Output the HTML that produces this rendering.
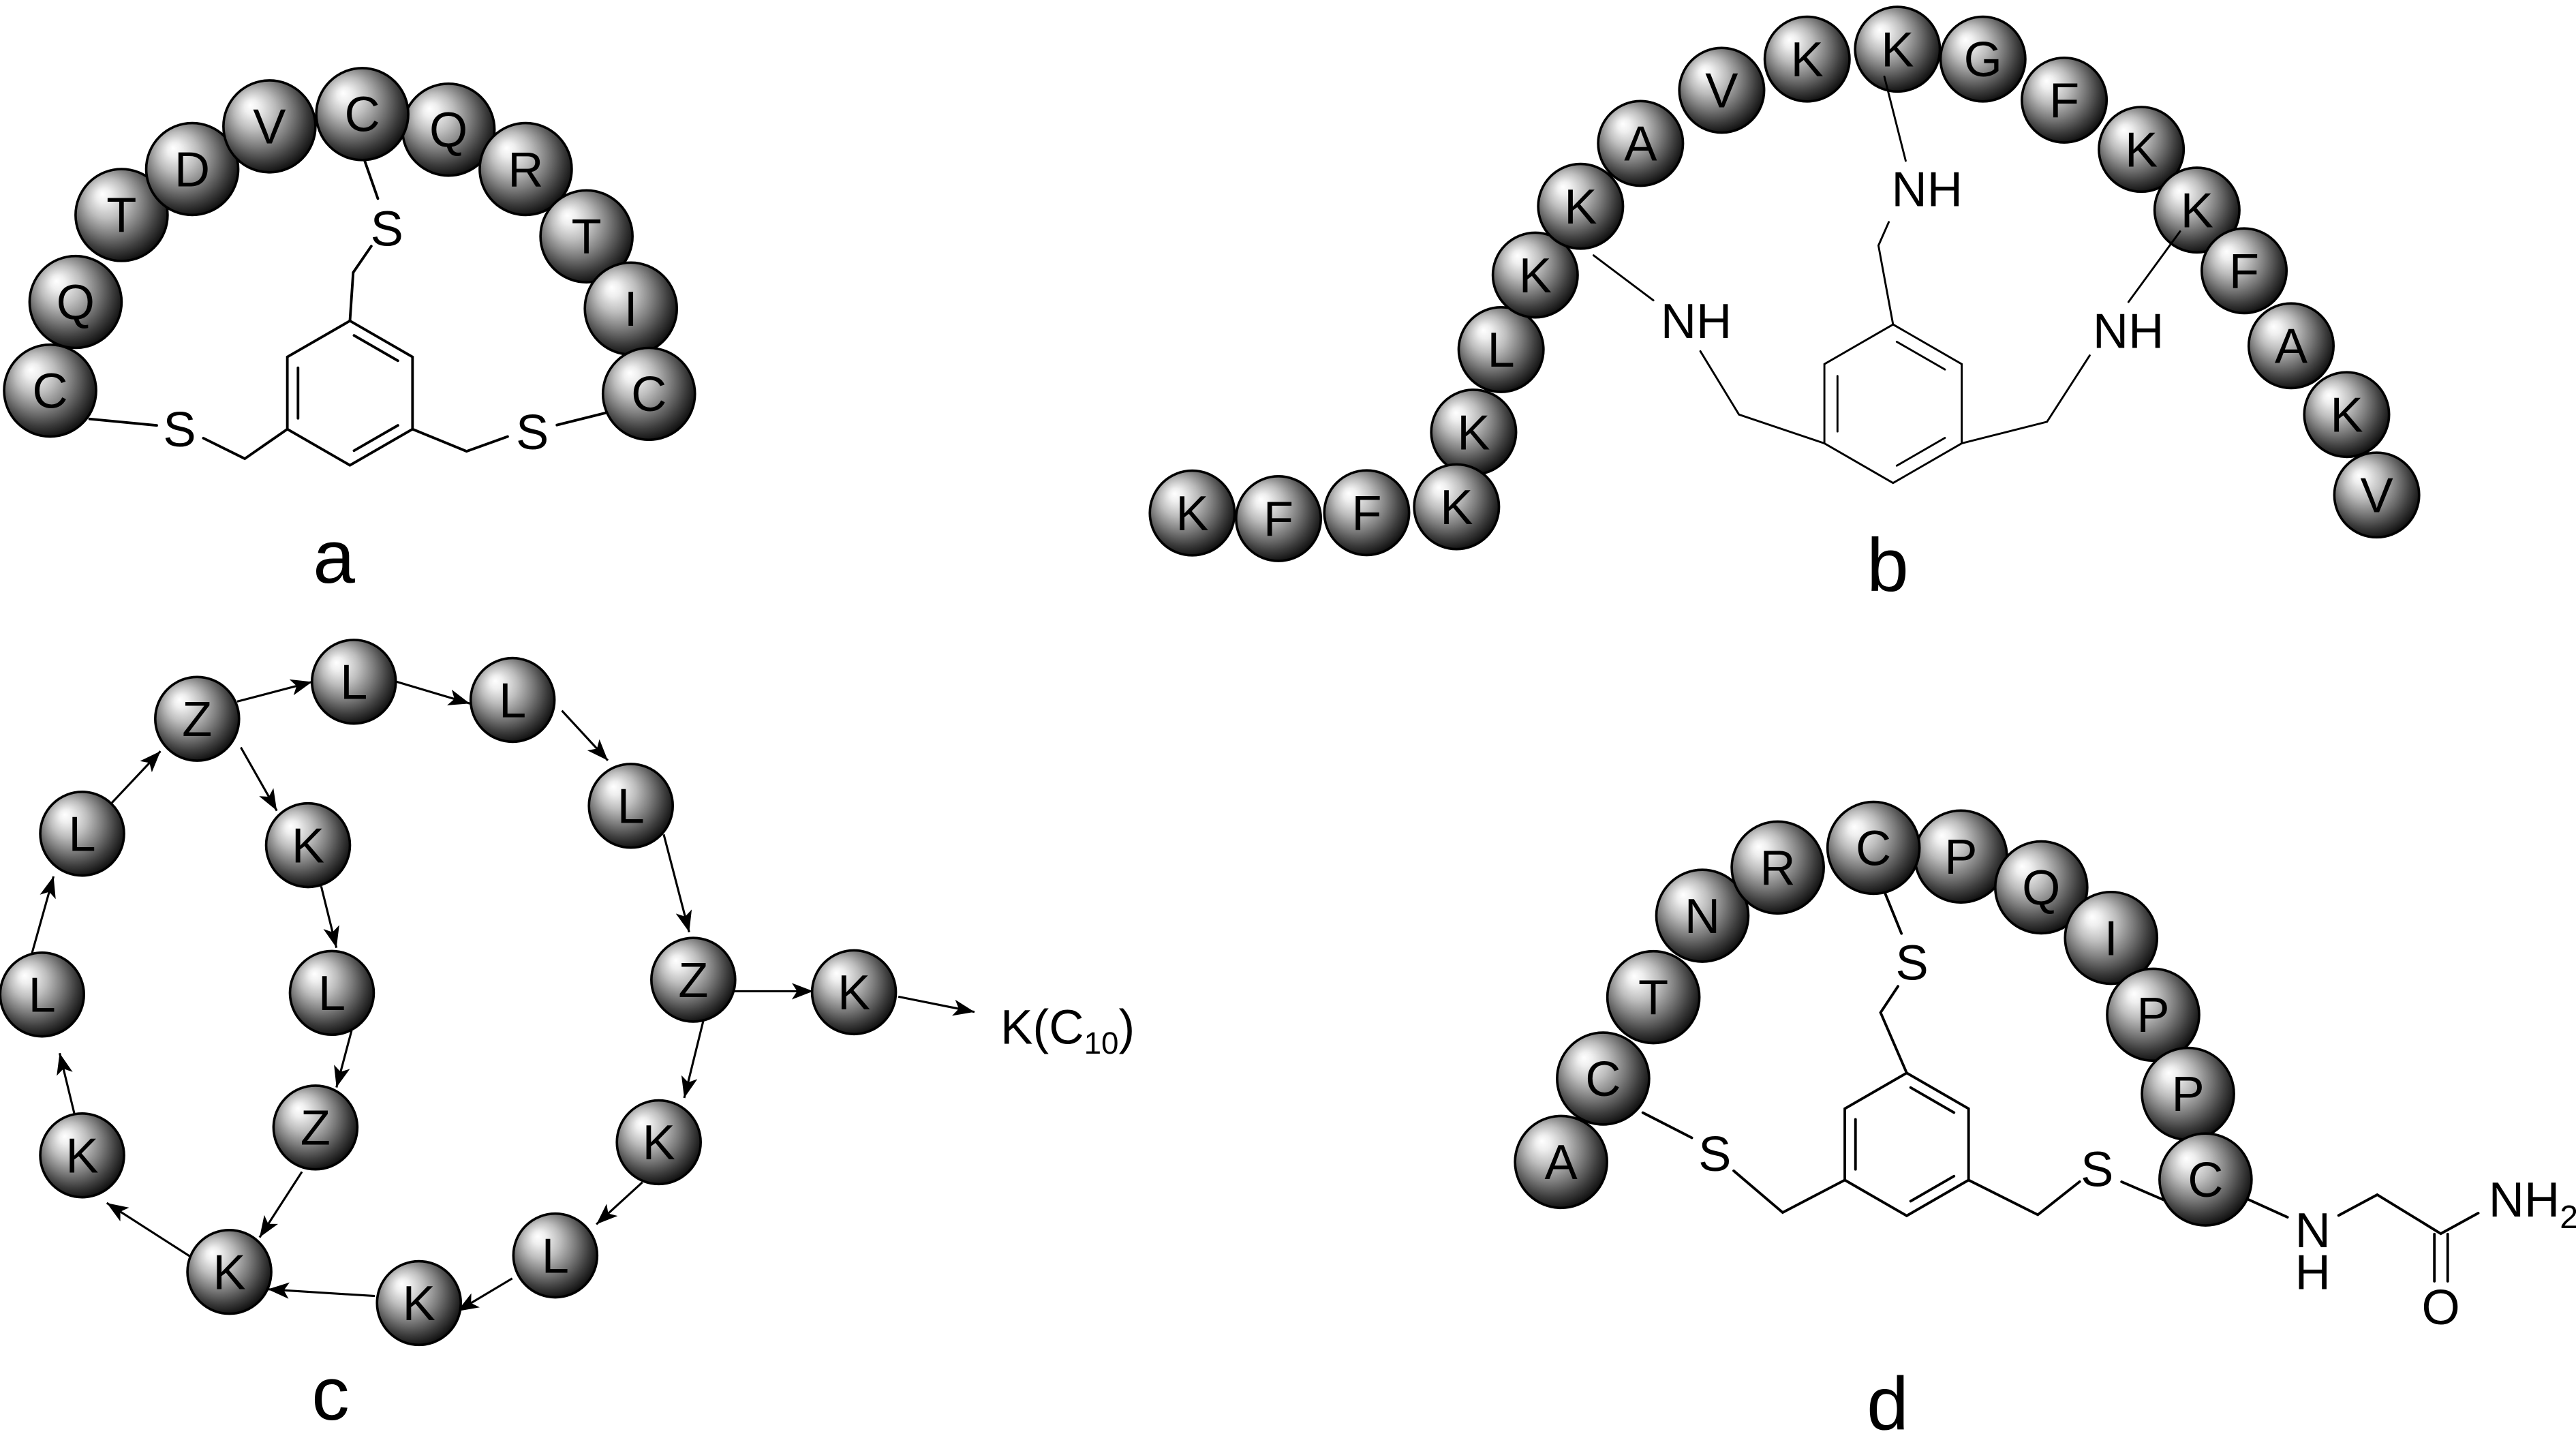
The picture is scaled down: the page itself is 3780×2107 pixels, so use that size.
<!DOCTYPE html>
<html>
<head>
<meta charset="utf-8">
<style>
html,body{margin:0;padding:0;background:#fff;overflow:hidden;}
svg{display:block;}
text{font-family:"Liberation Sans",Arial,sans-serif;fill:#000;}
.l{font-size:30px;text-anchor:middle;}
.t{font-size:30px;text-anchor:middle;}
.lab{font-size:46px;text-anchor:middle;}
</style>
</head>
<body>
<svg width="3780" height="2107" viewBox="0 0 1568 875" preserveAspectRatio="none" xmlns="http://www.w3.org/2000/svg">
<defs>
<radialGradient id="sph" cx="0.43" cy="0.41" r="0.61" fx="0.29" fy="0.27">
<stop offset="0" stop-color="#ffffff"/>
<stop offset="0.13" stop-color="#efefef"/>
<stop offset="0.36" stop-color="#bdbdbd"/>
<stop offset="0.6" stop-color="#7c7c7c"/>
<stop offset="0.82" stop-color="#3d3d3d"/>
<stop offset="1" stop-color="#0e0e0e"/>
</radialGradient>
<marker id="ah" viewBox="0 0 13 10" refX="13" refY="5" markerWidth="13" markerHeight="10" markerUnits="userSpaceOnUse" orient="auto">
<path d="M0,0 L13,5 L0,10 L3.2,5 Z" fill="#000"/>
</marker>
</defs>

<!-- ================= PANEL A ================= -->
<g stroke="#000" stroke-width="1.6" fill="none" stroke-linecap="round">
<polygon points="213,195.5 251.1,217.5 251.1,261.5 213,283.5 174.9,261.5 174.9,217.5"/>
<line x1="215.5" y1="204.4" x2="242.2" y2="219.8"/>
<line x1="181.4" y1="224.1" x2="181.4" y2="254.9"/>
<line x1="242.2" y1="259.2" x2="215.5" y2="274.6"/>
<polyline points="174.9,261.5 149,279.5 123.8,267"/>
<line x1="95.4" y1="259.2" x2="54.6" y2="255.3"/>
<polyline points="251.1,261.5 284,275 309,266"/>
<line x1="339" y1="259" x2="371" y2="251"/>
<polyline points="213,195.5 215,166 226,150"/>
<line x1="230" y1="121" x2="222" y2="98"/>
</g>
<text class="t" x="109.3" y="272">S</text>
<text class="t" x="324" y="273.7">S</text>
<text class="t" x="235.5" y="149.7">S</text>

<g stroke="#000" stroke-width="1.5" fill="url(#sph)">
<circle cx="46" cy="184" r="28"/>
<circle cx="30.5" cy="238" r="28"/>
<circle cx="74" cy="131" r="28"/>
<circle cx="117" cy="103" r="28"/>
<circle cx="164" cy="77" r="28"/>
<circle cx="273" cy="79" r="28"/>
<circle cx="220.5" cy="69.5" r="28"/>
<circle cx="320" cy="103" r="28"/>
<circle cx="357" cy="144" r="28"/>
<circle cx="384" cy="188" r="28"/>
<circle cx="395" cy="240" r="28"/>
</g>
<g class="l">
<text class="l" x="30.5" y="248.5">C</text>
<text class="l" x="46" y="194.5">Q</text>
<text class="l" x="74" y="141.5">T</text>
<text class="l" x="117" y="113.5">D</text>
<text class="l" x="164" y="87.5">V</text>
<text class="l" x="220.5" y="80">C</text>
<text class="l" x="273" y="89.5">Q</text>
<text class="l" x="320" y="113.5">R</text>
<text class="l" x="357" y="154.5">T</text>
<text class="l" x="384" y="198.5">I</text>
<text class="l" x="395" y="250.5">C</text>
</g>
<text class="lab" x="203.3" y="355">a</text>

<!-- ================= PANEL B ================= -->
<g stroke="#000" stroke-width="1.2" fill="none" stroke-linecap="round">
<polygon points="1152.3,197.7 1194.1,221.85 1194.1,270.15 1152.3,294.3 1110.5,270.15 1110.5,221.85"/>
<line x1="1154.57" y1="208.25" x2="1183.86" y2="225.16"/>
<line x1="1118.47" y1="229.1" x2="1118.47" y2="262.9"/>
<line x1="1183.86" y1="266.84" x2="1154.57" y2="283.75"/>
<polyline points="1152.3,197.7 1143.4,149.6 1149.7,135.3"/>
<polyline points="1110.5,270.15 1058.5,252.6 1035,214"/>
<polyline points="1194.1,270.15 1246,257 1272,216.6"/>
</g>
<g stroke="#000" stroke-width="1.5" fill="url(#sph)">
<circle cx="725.7" cy="312.6" r="25.8"/>
<circle cx="778.2" cy="316" r="25.8"/>
<circle cx="831.9" cy="312.4" r="25.8"/>
<circle cx="897" cy="263.3" r="25.8"/>
<circle cx="886.6" cy="308.8" r="25.8"/>
<circle cx="913.7" cy="213" r="25.8"/>
<circle cx="934.5" cy="167.6" r="25.8"/>
<circle cx="962.1" cy="125.7" r="25.8"/>
<circle cx="998.6" cy="87.4" r="25.8"/>
<circle cx="1048" cy="55" r="25.8"/>
<circle cx="1100" cy="36" r="25.8"/>
<circle cx="1207" cy="36" r="25.8"/>
<circle cx="1155" cy="30" r="25.8"/>
<circle cx="1256.5" cy="61" r="25.8"/>
<circle cx="1303.4" cy="91" r="25.8"/>
<circle cx="1337.3" cy="128" r="25.8"/>
<circle cx="1366" cy="165" r="25.8"/>
<circle cx="1394.6" cy="210.7" r="25.8"/>
<circle cx="1428.4" cy="252.6" r="25.8"/>
<circle cx="1446.7" cy="301.6" r="25.8"/>
</g>
<g stroke="#000" stroke-width="1.2" fill="none" stroke-linecap="round">
<line x1="1160" y1="98" x2="1147" y2="46.7"/>
<line x1="1006.4" y1="183" x2="970" y2="155.6"/>
<line x1="1295.6" y1="184" x2="1327" y2="141"/>
</g>
<text class="t" x="1173" y="125.7">NH</text>
<text class="t" x="1032.5" y="205.9">NH</text>
<text class="t" x="1295.5" y="212">NH</text>
<text class="l" x="725.7" y="323.1">K</text>
<text class="l" x="778.2" y="326.5">F</text>
<text class="l" x="831.9" y="322.9">F</text>
<text class="l" x="886.6" y="319.3">K</text>
<text class="l" x="897" y="273.8">K</text>
<text class="l" x="913.7" y="223.5">L</text>
<text class="l" x="934.5" y="178.1">K</text>
<text class="l" x="962.1" y="136.2">K</text>
<text class="l" x="998.6" y="97.9">A</text>
<text class="l" x="1048" y="65.5">V</text>
<text class="l" x="1100" y="46.5">K</text>
<text class="l" x="1155" y="40.5">K</text>
<text class="l" x="1207" y="46.5">G</text>
<text class="l" x="1256.5" y="71.5">F</text>
<text class="l" x="1303.4" y="101.5">K</text>
<text class="l" x="1337.3" y="138.5">K</text>
<text class="l" x="1366" y="175.5">F</text>
<text class="l" x="1394.6" y="221.2">A</text>
<text class="l" x="1428.4" y="263.1">K</text>
<text class="l" x="1446.7" y="312.1">V</text>
<text class="lab" x="1149" y="360">b</text>

<!-- ================= PANEL C ================= -->
<g stroke="#000" stroke-width="1.3" fill="none" marker-end="url(#ah)">
<line x1="144.3" y1="427.5" x2="190" y2="415.5"/>
<line x1="241" y1="415.3" x2="286" y2="428.7"/>
<line x1="342" y1="433" x2="370" y2="463.4"/>
<line x1="404" y1="508.4" x2="419.5" y2="568"/>
<line x1="446.8" y1="604" x2="495" y2="604"/>
<line x1="546.8" y1="607.3" x2="593.2" y2="616.6"/>
<line x1="428" y1="622.4" x2="416.5" y2="669"/>
<line x1="391" y1="720.4" x2="363" y2="746"/>
<line x1="311.8" y1="779" x2="278.3" y2="799"/>
<line x1="228.2" y1="789.7" x2="163" y2="785.6"/>
<line x1="115.4" y1="765.4" x2="65" y2="733"/>
<line x1="45.6" y1="680" x2="36.3" y2="641.7"/>
<line x1="19.5" y1="580.7" x2="32.6" y2="534"/>
<line x1="67.5" y1="489.8" x2="97.7" y2="457.7"/>
<line x1="146.6" y1="455.4" x2="168.5" y2="494"/>
<line x1="195.5" y1="540" x2="204.8" y2="577.5"/>
<line x1="214" y1="628" x2="204.8" y2="662.6"/>
<line x1="183.8" y1="714" x2="158" y2="754"/>
</g>
<g stroke="#000" stroke-width="1.5" fill="url(#sph)">
<circle cx="120" cy="438" r="25.5"/>
<circle cx="215.4" cy="415.4" r="25.5"/>
<circle cx="312" cy="426.5" r="25.5"/>
<circle cx="384" cy="491" r="25.5"/>
<circle cx="422" cy="597" r="25.5"/>
<circle cx="519.8" cy="604.6" r="25.5"/>
<circle cx="401" cy="696" r="25.5"/>
<circle cx="338" cy="765" r="25.5"/>
<circle cx="255" cy="794" r="25.5"/>
<circle cx="139.6" cy="775" r="25.5"/>
<circle cx="50" cy="704" r="25.5"/>
<circle cx="25.6" cy="606" r="25.5"/>
<circle cx="50" cy="508" r="25.5"/>
<circle cx="187.5" cy="515" r="25.5"/>
<circle cx="202" cy="605" r="25.5"/>
<circle cx="192" cy="687" r="25.5"/>
</g>
<text class="l" x="120" y="448.5">Z</text>
<text class="l" x="215.4" y="425.9">L</text>
<text class="l" x="312" y="437">L</text>
<text class="l" x="384" y="501.5">L</text>
<text class="l" x="422" y="607.5">Z</text>
<text class="l" x="519.8" y="615.1">K</text>
<text class="l" x="401" y="706.5">K</text>
<text class="l" x="338" y="775.5">L</text>
<text class="l" x="255" y="804.5">K</text>
<text class="l" x="139.6" y="785.5">K</text>
<text class="l" x="50" y="714.5">K</text>
<text class="l" x="25.6" y="616.5">L</text>
<text class="l" x="50" y="518.5">L</text>
<text class="l" x="187.5" y="525.5">K</text>
<text class="l" x="202" y="615.5">L</text>
<text class="l" x="192" y="697.5">Z</text>
<text x="609" y="636" style="font-size:29.5px">K(C<tspan dy="6" style="font-size:19px">10</tspan><tspan dy="-6">)</tspan></text>
<text class="lab" x="201.2" y="865">c</text>

<!-- ================= PANEL D ================= -->
<g stroke="#000" stroke-width="1.6" fill="none" stroke-linecap="round">
<polygon points="1160.6,653.8 1198.27,675.55 1198.27,719.05 1160.6,740.8 1122.93,719.05 1122.93,675.55"/>
<line x1="1163" y1="662.69" x2="1189.37" y2="677.92"/>
<line x1="1129.43" y1="682.08" x2="1129.43" y2="712.52"/>
<line x1="1189.37" y1="716.68" x2="1163" y2="731.91"/>
<polyline points="1160.6,653.8 1144.7,617 1155.3,601"/>
<line x1="1157.4" y1="568.8" x2="1147.6" y2="544.7"/>
<polyline points="1122.93,719.05 1085.1,738.8 1055.3,713.4"/>
<line x1="1029.8" y1="693.3" x2="1000" y2="678"/>
<polyline points="1198.27,719.05 1240.4,740.2 1265.9,720"/>
<line x1="1291.4" y1="720.1" x2="1319" y2="732"/>
<line x1="1365.5" y1="729.5" x2="1392.4" y2="741.7"/>
<polyline points="1423.5,740.6 1447,728 1485.7,751.7 1508.5,739.2"/>
<line x1="1481.8" y1="752" x2="1481.8" y2="780.7"/>
<line x1="1489.9" y1="752" x2="1489.9" y2="780.7"/>
</g>
<text class="t" x="1043.8" y="713.4">S</text>
<text class="t" x="1276.5" y="722.7">S</text>
<text class="t" x="1163.8" y="597">S</text>
<text class="t" x="1407.8" y="760">N</text>
<text class="t" x="1407.8" y="785.6">H</text>
<text class="t" x="1485.7" y="807">O</text>
<text x="1514.8" y="741.3" style="font-size:30px">NH<tspan dy="7" style="font-size:20px">2</tspan></text>

<g stroke="#000" stroke-width="1.5" fill="url(#sph)">
<circle cx="950.2" cy="708" r="28"/>
<circle cx="975.8" cy="657.2" r="28"/>
<circle cx="1006.4" cy="607.6" r="28"/>
<circle cx="1036.2" cy="558" r="28"/>
<circle cx="1082.1" cy="528.6" r="28"/>
<circle cx="1193.6" cy="521.9" r="28"/>
<circle cx="1140.4" cy="516.6" r="28"/>
<circle cx="1242.5" cy="540.7" r="28"/>
<circle cx="1285" cy="571.5" r="28"/>
<circle cx="1310.6" cy="618.3" r="28"/>
<circle cx="1331.8" cy="666.5" r="28"/>
<circle cx="1342.5" cy="718.7" r="28"/>
</g>
<text class="l" x="950.2" y="718.5">A</text>
<text class="l" x="975.8" y="667.7">C</text>
<text class="l" x="1006.4" y="618.1">T</text>
<text class="l" x="1036.2" y="568.5">N</text>
<text class="l" x="1082.1" y="539.1">R</text>
<text class="l" x="1140.4" y="527.1">C</text>
<text class="l" x="1193.6" y="532.4">P</text>
<text class="l" x="1242.5" y="551.2">Q</text>
<text class="l" x="1285" y="582">I</text>
<text class="l" x="1310.6" y="628.8">P</text>
<text class="l" x="1331.8" y="677">P</text>
<text class="l" x="1342.5" y="729.2">C</text>
<text class="lab" x="1149" y="871">d</text>
</svg>
</body>
</html>
